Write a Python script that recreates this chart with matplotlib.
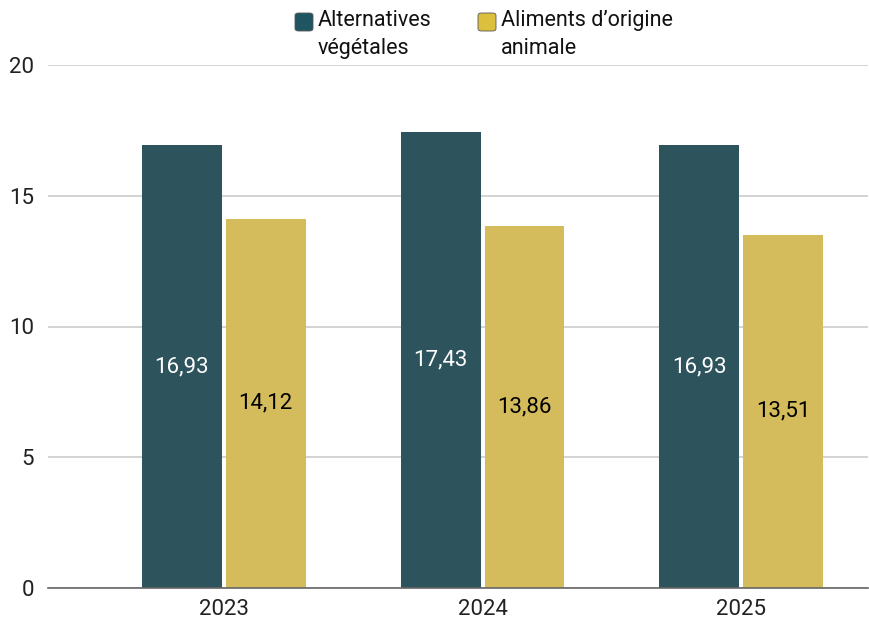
import matplotlib.pyplot as plt
import numpy as np
from matplotlib.patches import FancyBboxPatch

years = ['2023', '2024', '2025']
vegetal = [16.93, 17.43, 16.93]
animal = [14.12, 13.86, 13.51]
series_names = ['Alternatives\nvégétales', 'Aliments d\u2019origine\nanimale']

teal = '#2d535d'
gold = '#d4bb5b'

plt.rcParams['font.family'] = ['Roboto', 'DejaVu Sans']

W, H = 869, 622
fig = plt.figure(figsize=(W / 100, H / 100), dpi=100)
ax = fig.add_axes([48 / W, 1 - 588 / H, 820 / W, (588 - 65) / H])

x = np.arange(len(years))
w = 0.309
off = 0.162
b1 = ax.bar(x - off, vegetal, w, color=teal, zorder=3)
b2 = ax.bar(x + off, animal, w, color=gold, zorder=3)

for rect, v in zip(b1, vegetal):
    ax.text(rect.get_x() + rect.get_width() / 2, v / 2, f'{v:.2f}'.replace('.', ','),
            ha='center', va='center', color='white', fontsize=16, zorder=4)
for rect, v in zip(b2, animal):
    ax.text(rect.get_x() + rect.get_width() / 2, v / 2, f'{v:.2f}'.replace('.', ','),
            ha='center', va='center', color='black', fontsize=16, zorder=4)

ax.set_ylim(0, 20)
ax.set_xlim(-0.68, 2.49)
ax.set_yticks([0, 5, 10, 15, 20])
ax.set_xticks(x)
ax.set_xticklabels(years)
ax.tick_params(axis='both', length=0, labelsize=16, colors='#222222')
ax.tick_params(axis='y', pad=10)
ax.tick_params(axis='x', pad=8)
ax.grid(axis='y', color='#cccccc', linewidth=1.2, zorder=0)
for s in ['top', 'right', 'left']:
    ax.spines[s].set_visible(False)
ax.spines['bottom'].set_color('#666666')
ax.spines['bottom'].set_linewidth(1.2)
ax.spines['bottom'].set_zorder(5)

# legend drawn by hand so the swatch sits on the first text line
legend_items = [(295, '#1f5560', series_names[0]), (478, '#dcbf3c', series_names[1])]
for px, col, name in legend_items:
    sw = FancyBboxPatch((px / W, 1 - 31 / H), 18 / W, 18 / H,
                        boxstyle='round,pad=0,rounding_size=0.004',
                        transform=fig.transFigure, facecolor=col,
                        edgecolor='#555555', linewidth=0.6)
    fig.patches.append(sw)
    fig.text((px + 23) / W, 1 - 10 / H, name, ha='left', va='top',
             fontsize=15.5, color='#111111', linespacing=1.45)

fig.savefig('out.png', dpi=100)
